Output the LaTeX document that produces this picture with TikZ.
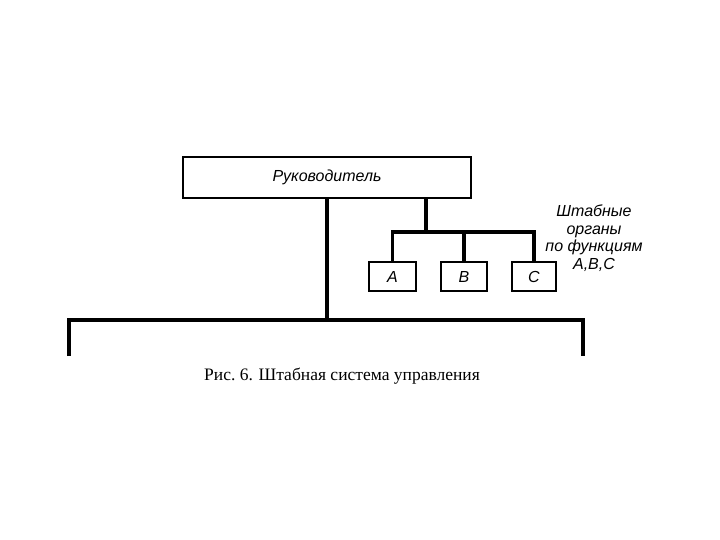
\documentclass[tikz,border=0pt]{standalone}
\usepackage{fontspec}
\setmainfont{Liberation Serif}
\newfontfamily\labelfont{Liberation Sans}
\usepackage{tikz}
\usetikzlibrary{positioning}

\begin{document}
\begin{tikzpicture}[x=1pt, y=-1pt,
  unit/.style={rectangle, draw, line width=1.8pt, inner sep=0pt,
               font=\labelfont\itshape\fontsize{16}{18}\selectfont},
  link/.style={line width=3.4pt},
  note/.style={align=center, font=\labelfont\itshape\fontsize{16}{17.5}\selectfont}
]
\useasboundingbox (0,0) rectangle (720,540);
\node[unit, minimum width=288pt, minimum height=41pt] (boss) at (327,177.5) {Руководитель};
\node[unit, minimum width=47pt, minimum height=29pt] (A) at (392.5,276.5) {А};
\node[unit, minimum width=46pt, minimum height=29pt] (B) at (464,276.5) {В};
\node[unit, minimum width=44pt, minimum height=29pt] (C) at (534,276.5) {С};
\node[note] (staff) at (594,238) {Штабные\\органы\\по функциям\\А,В,С};
% шина штабных органов
\coordinate (bus) at (426,232);
\draw[link] (boss.south -| bus) -- (bus);
\draw[link] (A.north) |- (bus) -| (C.north);
\draw[link] (B.north) -- (B.north |- bus);
% линейная часть
\coordinate (base) at (327,320);
\coordinate (left) at (69,356);
\coordinate (right) at (583,356);
\draw[link] (boss) -- (base);
\draw[link] (left) -- (left |- base) -- (right |- base) -- (right);
\node[font=\fontsize{17.5}{20}\selectfont] (caption) at (342,376) {Рис.~6. Штабная система управления};
\end{tikzpicture}
\end{document}
